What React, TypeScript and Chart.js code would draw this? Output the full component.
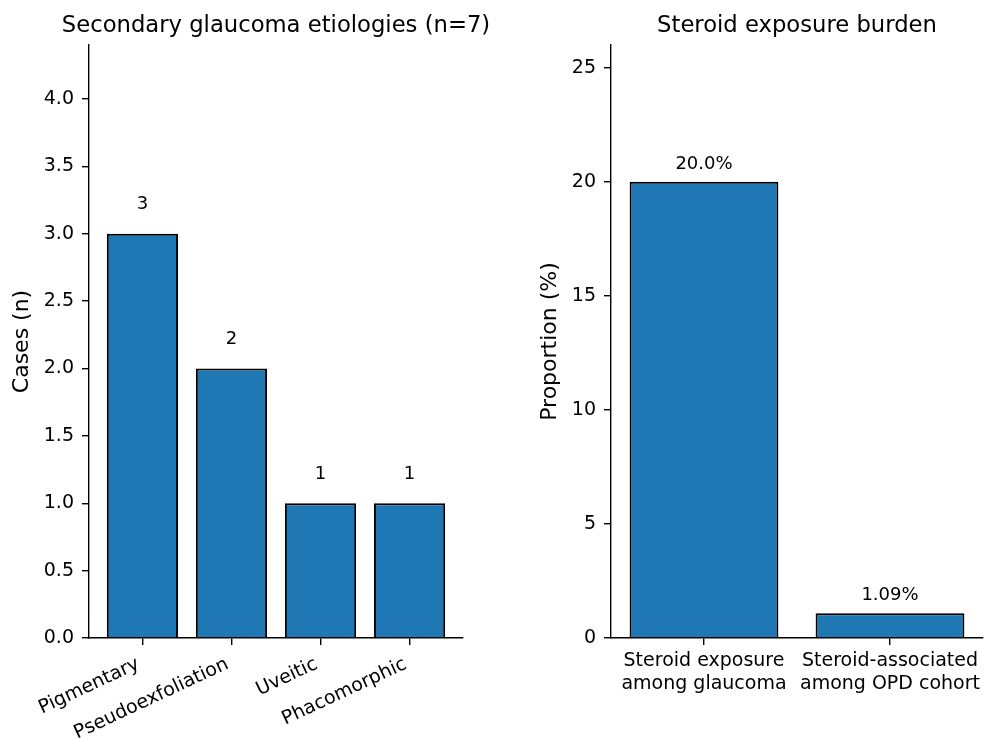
import React, { useEffect, useRef } from 'react';
import { Chart, registerables } from 'chart.js';

Chart.register(...registerables);

// ---- data ----
const etiologyLabels: string[] = ['Pigmentary', 'Pseudoexfoliation', 'Uveitic', 'Phacomorphic'];
const etiologyCases: number[] = [3, 2, 1, 1];
const etiologyText: string[] = ['3', '2', '1', '1'];
const etiologyTitle = 'Secondary glaucoma etiologies (n=7)';

const burdenLabels: string[][] = [
  ['Steroid exposure', 'among glaucoma'],
  ['Steroid-associated', 'among OPD cohort'],
];
const burdenValues: number[] = [20.0, 1.09];
const burdenText: string[] = ['20.0%', '1.09%'];
const burdenTitle = 'Steroid exposure burden';

const FONT = '"DejaVu Sans", sans-serif';
const BAR = '#1f77b4';

function overlayPlugin(title: string, texts: string[], offset: number) {
  return {
    id: 'overlay',
    afterDraw(chart: any) {
      const { ctx, chartArea } = chart;
      ctx.save();
      ctx.fillStyle = '#000';
      ctx.textAlign = 'center';
      ctx.textBaseline = 'alphabetic';
      ctx.font = `22.7px ${FONT}`;
      ctx.fillText(title, (chartArea.left + chartArea.right) / 2, 32);
      const meta = chart.getDatasetMeta(0);
      const ys = chart.scales.y;
      ctx.font = `18px ${FONT}`;
      meta.data.forEach((bar: any, i: number) => {
        const raw = chart.data.datasets[0].data[i];
        const v = typeof raw === 'object' ? raw.y : raw;
        ctx.fillText(texts[i], bar.x, ys.getPixelForValue(v + offset) - 4);
      });
      ctx.restore();
    },
  };
}

const axisGrid = {
  display: true,
  drawOnChartArea: false,
  drawTicks: true,
  tickLength: 7,
  color: '#000',
  lineWidth: 1.4,
  offset: false,
};
const axisBorder = { display: true, color: '#000', width: 1.4 };
const tickFont = { family: FONT, size: 19 };

export default function App() {
  const leftRef = useRef<HTMLCanvasElement>(null);
  const rightRef = useRef<HTMLCanvasElement>(null);

  useEffect(() => {
    const left = new Chart(leftRef.current!, {
      type: 'bar',
      data: {
        datasets: [
          {
            data: etiologyCases.map((y, i) => ({ x: i, y })),
            backgroundColor: BAR,
            borderColor: '#000',
            borderWidth: 2,
            barPercentage: 0.8,
            categoryPercentage: 1,
          },
        ],
      },
      options: {
        responsive: false,
        animation: false,
        layout: { padding: { left: 0, right: 37, top: 45, bottom: 0 } },
        plugins: { legend: { display: false }, tooltip: { enabled: false } },
        scales: {
          x: {
            type: 'linear',
            min: -0.6,
            max: 3.6,
            offset: false,
            grid: { ...axisGrid },
            border: { ...axisBorder },
            afterFit: (s: any) => {
              s.height = 100;
            },
            ticks: {
              stepSize: 1,
              includeBounds: false,
              autoSkip: false,
              minRotation: 25,
              maxRotation: 25,
              padding: 8,
              labelOffset: -4,
              color: '#000',
              font: tickFont,
              callback: (v: any) => etiologyLabels[v] ?? '',
            },
          },
          y: {
            min: 0,
            max: 4.4,
            grid: { ...axisGrid },
            border: { ...axisBorder },
            afterFit: (s: any) => {
              s.width = 89;
            },
            ticks: {
              stepSize: 0.5,
              includeBounds: false,
              padding: 8,
              color: '#000',
              font: tickFont,
              callback: (v: any) => Number(v).toFixed(1),
            },
            title: {
              display: true,
              text: 'Cases (n)',
              color: '#000',
              font: { family: FONT, size: 22 },
              padding: { top: 9, bottom: 0 },
            },
          },
        },
      },
      plugins: [overlayPlugin(etiologyTitle, etiologyText, 0.15)],
    } as any);

    const right = new Chart(rightRef.current!, {
      type: 'bar',
      data: {
        labels: burdenLabels,
        datasets: [
          {
            data: burdenValues,
            backgroundColor: BAR,
            borderColor: '#000',
            borderWidth: 2,
            barPercentage: 0.8,
            categoryPercentage: 1,
          },
        ],
      },
      options: {
        responsive: false,
        animation: false,
        layout: { padding: { left: 0, right: 0, top: 45, bottom: 0 } },
        plugins: { legend: { display: false }, tooltip: { enabled: false } },
        scales: {
          x: {
            type: 'category',
            offset: true,
            grid: { ...axisGrid },
            border: { ...axisBorder },
            afterFit: (s: any) => {
              s.height = 100;
            },
            ticks: {
              autoSkip: false,
              maxRotation: 0,
              minRotation: 0,
              padding: 5,
              color: '#000',
              font: tickFont,
            },
          },
          y: {
            min: 0,
            max: 26,
            grid: { ...axisGrid },
            border: { ...axisBorder },
            afterFit: (s: any) => {
              s.width = 111;
            },
            ticks: {
              stepSize: 5,
              includeBounds: false,
              padding: 8,
              color: '#000',
              font: tickFont,
            },
            title: {
              display: true,
              text: 'Proportion (%)',
              color: '#000',
              font: { family: FONT, size: 22 },
              padding: { top: 37, bottom: 0 },
            },
          },
        },
      },
      plugins: [overlayPlugin(burdenTitle, burdenText, 0.4)],
    } as any);

    return () => {
      left.destroy();
      right.destroy();
    };
  }, []);

  return (
    <div
      style={{
        position: 'absolute',
        left: 0,
        top: 0,
        width: 985,
        height: 738,
        background: '#fff',
      }}
    >
      <canvas
        ref={leftRef}
        width={500}
        height={738}
        style={{ position: 'absolute', left: 0, top: 0, width: 500, height: 738 }}
      />
      <canvas
        ref={rightRef}
        width={485}
        height={738}
        style={{ position: 'absolute', left: 500, top: 0, width: 485, height: 738 }}
      />
    </div>
  );
}
